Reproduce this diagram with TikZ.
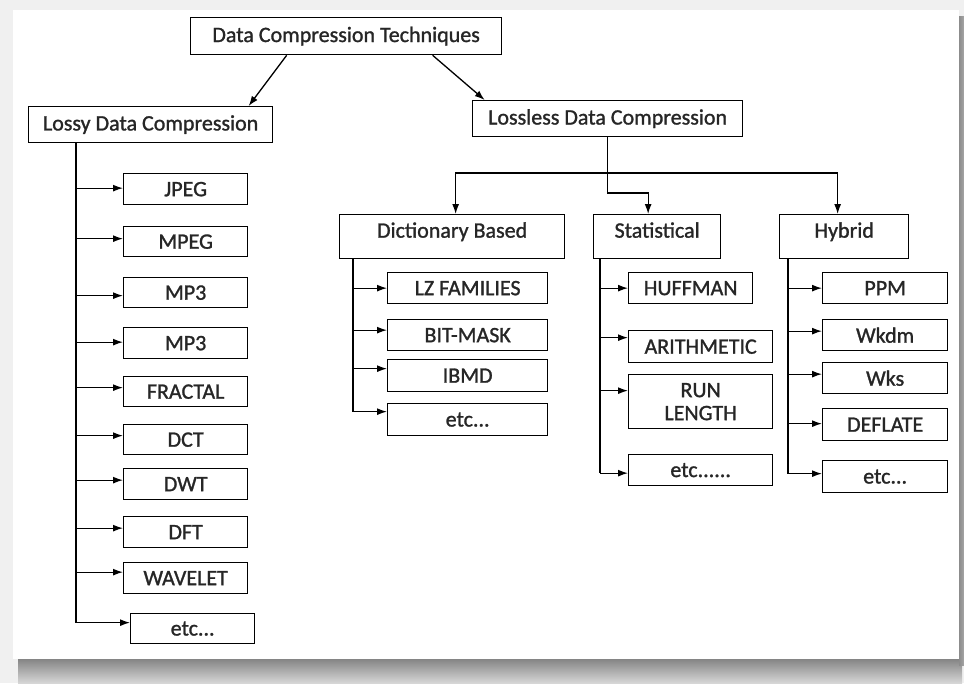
\documentclass[tikz,border=0pt]{standalone}
\usepackage{fontspec}
\setmainfont{Carlito}
\newfontfamily\dfont[BoldFont={Carlito}, BoldFeatures={FakeBold=1.2}]{Carlito}
\usetikzlibrary{arrows.meta}
\newcommand\fs{\dfont\fontsize{22}{23}\bfseries\selectfont}
\tikzset{
  box/.style={draw, line width=1.3pt, inner sep=0pt, anchor=north west, font=\fs, align=center, text=black!85},
  catbox/.style={box, text height=23pt, text depth=21pt},
  ln/.style={line width=1.3pt},
  arr/.style={-{Latex[length=10pt,width=7pt]}, line width=1.3pt},
  darr/.style={{Latex[length=10pt,width=7pt]}-{Latex[length=10pt,width=7pt]}, line width=1.3pt}
}
\newcommand\bx[7][box]{\node[#1,minimum width={#5-#3},minimum height={#6-#4}] (#2) at (#3,#4) {#7};}
\newcommand\br[3]{\coordinate (#2t) at ([yshift=#3pt]#2.west); \draw[arr] (#1 |- #2t) -- (#2t);}
\begin{document}
\begin{tikzpicture}[x=1pt,y=-1pt]
\useasboundingbox (0,0) rectangle (964,683);
% page and shadow
\fill[black!6] (0,0) rectangle (964,683);
\shade[top color=black!48, bottom color=black!16] (18,659) rectangle (962,683);
\shade[left color=black!45, right color=black!35] (959,16) rectangle (964,665);
\fill[white] (13,10) rectangle (959,659);

% nodes
\bx{top}{190}{17}{501}{54}{Data Compression Techniques}
\bx{lossy}{28}{106}{272}{142}{Lossy Data Compression}
\bx{lossless}{472}{100}{742}{136}{Lossless Data Compression}

\bx{jpeg}{123}{173}{247}{204}{JPEG}
\bx{mpeg}{123}{226}{247}{256}{MPEG}
\bx{mpa}{123}{277}{247}{307}{MP3}
\bx{mpb}{123}{327}{247}{358}{MP3}
\bx{fractal}{123}{376}{247}{406}{FRACTAL}
\bx{dct}{123}{424}{247}{454}{DCT}
\bx{dwt}{123}{468}{247}{499}{DWT}
\bx{dft}{123}{516}{247}{547}{DFT}
\bx{wavelet}{123}{562}{247}{593}{WAVELET}
\bx{etcA}{130}{613}{254}{643}{etc...}

\bx[catbox]{dict}{339}{214}{564}{258}{Dictionary Based}
\bx[catbox]{stat}{593}{214}{720}{258}{Statistical}
\bx[catbox]{hyb}{779}{214}{908}{258}{Hybrid}

\bx{lz}{387}{272}{547}{303}{LZ FAMILIES}
\bx{bit}{387}{319}{547}{350}{BIT-MASK}
\bx{ibmd}{387}{359}{547}{391}{IBMD}
\bx{etcD}{387}{403}{547}{435}{etc...}

\bx{huff}{628}{272}{752}{303}{HUFFMAN}
\bx{arith}{628}{330}{772}{362}{ARITHMETIC}
\bx{run}{628}{374}{772}{428}{RUN\\LENGTH}
\bx{etcS}{628}{454}{772}{485}{etc......}

\bx{ppm}{822}{272}{947}{303}{PPM}
\bx{wkdm}{822}{319}{947}{350}{Wkdm}
\bx{wks}{822}{362}{947}{393}{Wks}
\bx{defl}{822}{408}{947}{440}{DEFLATE}
\bx{etcH}{822}{460}{947}{492}{etc...}

% top level arrows
\draw[arr] ([xshift=-59.5pt]top.south) -- ([xshift=98pt]lossy.north);
\draw[arr] ([xshift=86.5pt]top.south) -- ([xshift=-123pt]lossless.north);

% lossless to categories
\coordinate (sj) at ([xshift=-9pt,yshift=21pt]stat.north);
\draw[arr] (lossless.south) |- (sj) -- (sj |- stat.north);
\coordinate (hl) at ([xshift=3.5pt,yshift=41pt]dict.north);
\coordinate (hn) at ([xshift=-6.5pt]hyb.north);
\draw[darr] (hl |- dict.north) -- (hl) -- (hl -| hn) -- (hn);

% lossy branch
\coordinate (ls) at ([xshift=48pt]lossy.south west);
\br{ls}{jpeg}{1} \br{ls}{mpeg}{3} \br{ls}{mpa}{-3} \br{ls}{mpb}{1}
\br{ls}{fractal}{4} \br{ls}{dct}{4} \br{ls}{dwt}{4} \br{ls}{dft}{4}
\br{ls}{wavelet}{6} \br{ls}{etcA}{6}
\draw[ln] (ls) -- (ls |- etcAt);

% dictionary branch
\coordinate (ds) at ([xshift=14pt]dict.south west);
\br{ds}{lz}{0} \br{ds}{bit}{5} \br{ds}{ibmd}{7} \br{ds}{etcD}{8}
\draw[ln] (ds) -- (ds |- etcDt);

% statistical branch
\coordinate (ss) at ([xshift=7pt]stat.south west);
\br{ss}{huff}{0} \br{ss}{arith}{9} \br{ss}{run}{11} \br{ss}{etcS}{-3}
\draw[ln] (ss) -- (ss |- etcSt);

% hybrid branch
\coordinate (hs) at ([xshift=9pt]hyb.south west);
\br{hs}{ppm}{0} \br{hs}{wkdm}{4} \br{hs}{wks}{4} \br{hs}{defl}{1} \br{hs}{etcH}{3}
\draw[ln] (hs) -- (hs |- etcHt);
\end{tikzpicture}
\end{document}
